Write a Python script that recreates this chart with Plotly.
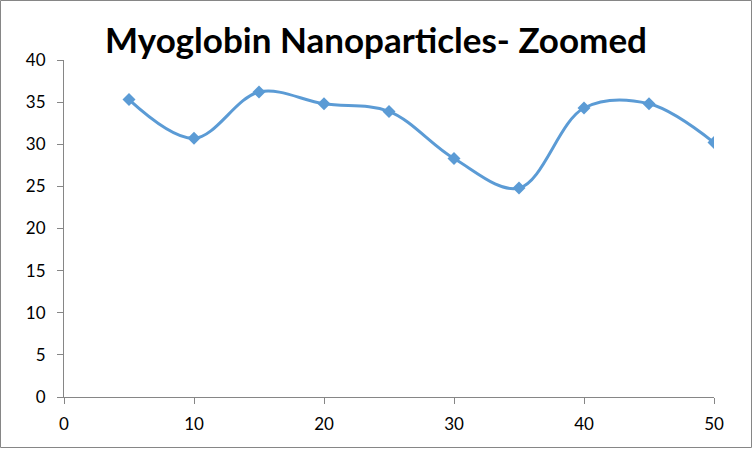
import plotly.graph_objects as go

x_vals = [5, 10, 15, 20, 25, 30, 35, 40, 45, 50]
y_vals = [35.3, 30.7, 36.2, 34.8, 33.9, 28.3, 24.8, 34.3, 34.8, 30.2]
title_text = "Myoglobin Nanoparticles- Zoomed"

W, H = 754, 450
ml, mr, mt, mb = 64, 40, 60, 53
pw, ph = W - ml - mr, H - mt - mb

fig = go.Figure()
fig.add_trace(go.Scatter(
    x=x_vals, y=y_vals, mode="lines+markers",
    line=dict(color="#5B9BD5", width=3, shape="spline", smoothing=1.0),
    marker=dict(symbol="diamond", size=10, color="#5B9BD5"),
    showlegend=False, hoverinfo="x+y",
))

font_fam = "Lato, Carlito, Calibri, sans-serif"
axis_common = dict(
    showgrid=False, zeroline=False, showline=True, linecolor="#868686", linewidth=1,
    ticks="outside", ticklen=6, tickcolor="#868686", tickwidth=1,
    tickfont=dict(family=font_fam, size=17, color="#000000"),
)
fig.update_xaxes(range=[0, 50], dtick=10, tick0=0, ticklabelstandoff=6, **axis_common)
fig.update_yaxes(range=[0, 40], dtick=5, tick0=0, ticklabelstandoff=8, **axis_common)

fig.update_layout(
    width=W, height=H,
    margin=dict(l=ml, r=mr, t=mt, b=mb, autoexpand=False),
    paper_bgcolor="white", plot_bgcolor="white",
    title=dict(text=title_text, x=0.48, xanchor="center", xref="paper",
               y=1 - 41 / H, yanchor="middle", yref="container",
               font=dict(family=font_fam, size=35, color="#000000", weight="bold")),
    shapes=[dict(type="rect", xref="paper", yref="paper",
                 x0=(-ml + 0.5) / pw, x1=(pw + mr - 2.5) / pw,
                 y0=(-mb + 2.5) / ph, y1=(ph + mt - 0.5) / ph,
                 line=dict(color="#868686", width=1), fillcolor="rgba(0,0,0,0)", layer="below")],
)

fig.write_html("out.html", config={"displayModeBar": False},
               post_script="document.body.style.margin='0px';document.body.style.overflow='hidden';")
